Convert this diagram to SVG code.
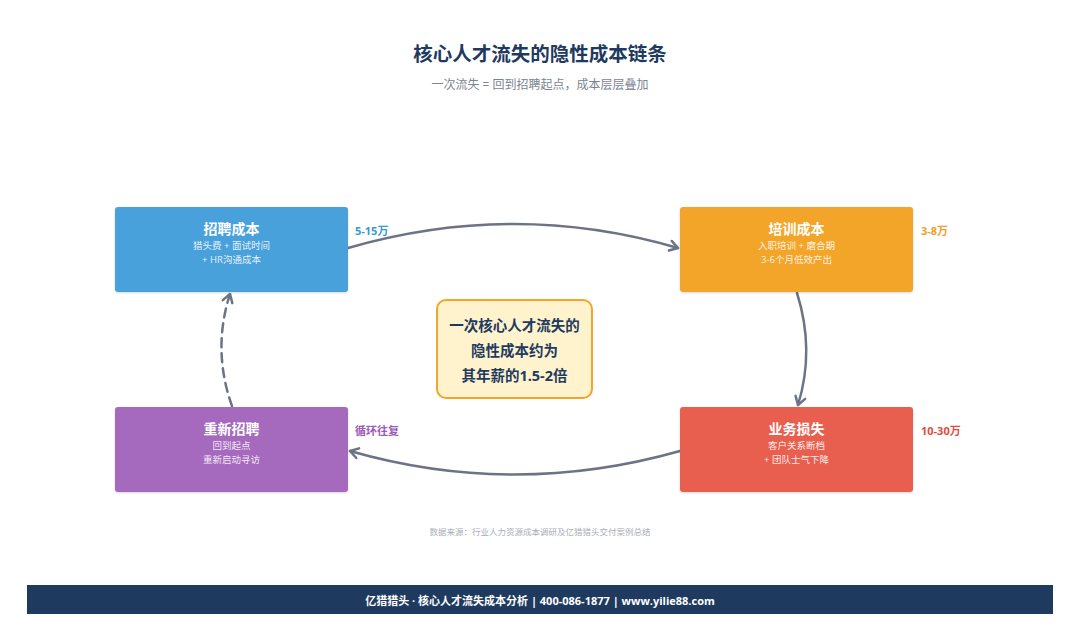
<svg xmlns="http://www.w3.org/2000/svg" width="1080" height="641" viewBox="0 0 1080 641">
<style>
text{font-family:"Open Sans","Noto Sans CJK SC",sans-serif;text-anchor:middle}
.t{font-size:14px;font-weight:700;fill:#fff}
.s{font-size:9.5px;fill:#fff;fill-opacity:.88}
.lab{font-size:11px;font-weight:700;text-anchor:start}
.c{fill:none;stroke:#6b7385;stroke-width:2.5;stroke-linecap:round}
.ctr{font-size:14.5px;font-weight:700;fill:#1f3a5f}
</style>
<defs>
<marker id="ah" markerWidth="14" markerHeight="14" refX="11" refY="7" orient="auto" markerUnits="userSpaceOnUse">
<path d="M3,2 L11,7 L3,12" fill="none" stroke="#6b7385" stroke-width="2.5" stroke-linecap="round" stroke-linejoin="round"/>
</marker>
<filter id="sh" x="-10%" y="-10%" width="120%" height="130%"><feDropShadow dx="0" dy="1" stdDeviation="1.2" flood-opacity="0.15"/></filter>
</defs>
<rect width="1080" height="641" fill="#fff"/>
<text x="540" y="61" style="font-size:19.5px;font-weight:700;fill:#1f3a5f">核心人才流失的隐性成本链条</text>
<text x="540" y="89" style="font-size:12px;fill:#7b8494" xml:space="preserve">一次流失 = 回到招聘起点，成本层层叠加</text>
<g id="connectors">
<path class="c" d="M348,248 Q514,200 678,248" marker-end="url(#ah)"/>
<path class="c" d="M797,293 Q815,350 798,405" marker-end="url(#ah)"/>
<path class="c" d="M680,451 Q514,498 350,451" marker-end="url(#ah)"/>
<path class="c" d="M232,406 Q212,350 230,294" stroke-dasharray="9,6" marker-end="url(#ah)"/>
</g>
<g id="n1">
<rect x="115" y="207" width="233" height="85" rx="3" fill="#48a1dc" filter="url(#sh)"/>
<text class="t" x="231.5" y="234">招聘成本</text>
<text class="s" x="231.5" y="249">猎头费 + 面试时间</text>
<text class="s" x="231.5" y="263">+ HR沟通成本</text>
<text class="lab" x="355" y="235" fill="#3b97d9">5-15万</text>
</g>
<g id="n2">
<rect x="680" y="207" width="233" height="85" rx="3" fill="#f3a52b" filter="url(#sh)"/>
<text class="t" x="796.5" y="234">培训成本</text>
<text class="s" x="796.5" y="249">入职培训 + 磨合期</text>
<text class="s" x="796.5" y="263">3-6个月低效产出</text>
<text class="lab" x="921" y="235" fill="#f0a02a">3-8万</text>
</g>
<g id="n3">
<rect x="680" y="407" width="233" height="85" rx="3" fill="#e95f4f" filter="url(#sh)"/>
<text class="t" x="796.5" y="434">业务损失</text>
<text class="s" x="796.5" y="449">客户关系断档</text>
<text class="s" x="796.5" y="463">+ 团队士气下降</text>
<text class="lab" x="921" y="435" fill="#e54b3c">10-30万</text>
</g>
<g id="n4">
<rect x="115" y="407" width="233" height="85" rx="3" fill="#a569bd" filter="url(#sh)"/>
<text class="t" x="231.5" y="434">重新招聘</text>
<text class="s" x="231.5" y="449">回到起点</text>
<text class="s" x="231.5" y="463">重新启动寻访</text>
<text class="lab" x="355" y="435" fill="#9b59b6">循环往复</text>
</g>
<g id="center">
<rect x="437" y="300" width="155" height="98" rx="9" fill="#fef3cd" stroke="#f3a52b" stroke-width="2"/>
<text class="ctr" x="514.5" y="331">一次核心人才流失的</text>
<text class="ctr" x="514.5" y="356">隐性成本约为</text>
<text class="ctr" x="514.5" y="381">其年薪的1.5-2倍</text>
</g>
<text x="540" y="535" style="font-size:8.5px;fill:#a8adb7">数据来源：行业人力资源成本调研及亿猎猎头交付案例总结</text>
<g id="footer">
<rect x="27" y="585" width="1026" height="29" fill="#1f3a5f"/>
<text x="540" y="605" style="font-size:11px;font-weight:700;fill:#fff">亿猎猎头 · 核心人才流失成本分析 | 400-086-1877 | www.yilie88.com</text>
</g>
</svg>
